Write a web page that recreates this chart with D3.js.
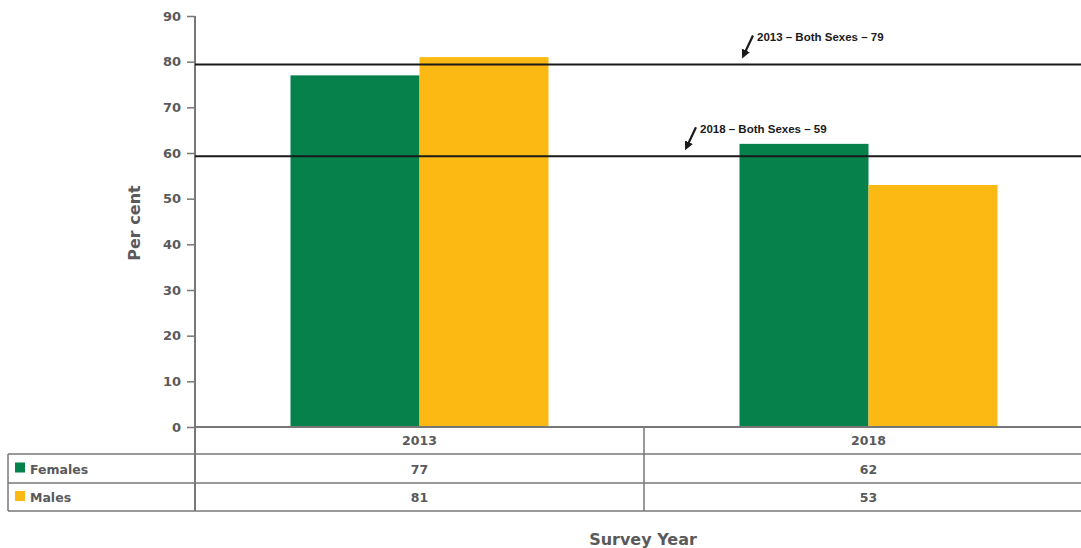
<!DOCTYPE html>
<html><head><meta charset="utf-8">
<script src="https://cdn.jsdelivr.net/npm/d3@7"></script>
<style>body{margin:0;background:#fff}svg{display:block}</style>
</head><body>
<script>
const years = ["2013", "2018"];
const seriesNames = ["Females", "Males"];
const females = [77, 62];
const males = [81, 53];
const yTicks = [0, 10, 20, 30, 40, 50, 60, 70, 80, 90];
const refYears = ["2013", "2018"];
const refValues = [79.4, 59.3];
const refLabels = ["2013 – Both Sexes – 79", "2018 – Both Sexes – 59"];
const colors = ["#06814b", "#fdb913"];

const W = 1081, H = 548;
const svg = d3.select("body").append("svg").attr("width", W).attr("height", H);
const font = "'DejaVu Sans', sans-serif";
const gray = "#5a5a5c", lineGray = "#777";

const x = d3.scaleBand().domain(years).range([195, 1093]);
const x1 = d3.scaleBand().domain(seriesNames).range([0, 258]);
const y = d3.scaleLinear().domain([0, 90]).range([427, 16]);

const series = [females, males];

// bars
years.forEach((yr, i) => {
  seriesNames.forEach((s, j) => {
    const v = series[j][i];
    svg.append("rect")
      .attr("x", x(yr) + (x.bandwidth() - 258) / 2 + x1(s))
      .attr("y", y(v))
      .attr("width", x1.bandwidth())
      .attr("height", y(0) - y(v))
      .attr("fill", colors[j]);
  });
});

// y axis
const yAxis = d3.axisLeft(y).tickValues(yTicks).tickSize(8).tickPadding(6);
const ga = svg.append("g").attr("transform", "translate(195,0)").call(yAxis);
ga.select(".domain").attr("stroke", lineGray).attr("stroke-width", 2).attr("d", "M0,16V511");
ga.selectAll(".tick line").attr("stroke", lineGray).attr("stroke-width", 1.5);
ga.selectAll(".tick text").attr("fill", gray).attr("font-family", font)
  .attr("font-weight", "bold").attr("font-size", 13);

// reference lines
refValues.forEach((v, i) => {
  svg.append("line").attr("x1", 195).attr("x2", W).attr("y1", y(v)).attr("y2", y(v))
    .attr("stroke", "#1a1a1a").attr("stroke-width", 2);
});
// annotations
svg.append("defs").append("marker").attr("id", "ah").attr("viewBox", "0 0 10 10")
  .attr("refX", 5).attr("refY", 5).attr("markerWidth", 4).attr("markerHeight", 4)
  .attr("orient", "auto-start-reverse")
  .append("path").attr("d", "M0,0L10,5L0,10z").attr("fill", "#1a1a1a");
const annX = [757, 700];
refValues.forEach((v, i) => {
  const ty = y(v) - 23;
  const ax = annX[i];
  svg.append("line").attr("x1", ax - 4).attr("y1", ty - 6).attr("x2", ax - 13).attr("y2", ty + 13)
    .attr("stroke", "#1a1a1a").attr("stroke-width", 2.2).attr("marker-end", "url(#ah)");
  svg.append("text").attr("x", ax).attr("y", ty).text(refLabels[i])
    .attr("font-family", "'Liberation Sans Narrow', 'Liberation Sans', sans-serif")
    .attr("font-weight", "bold").attr("font-size", 11.5).attr("fill", "#1a1a1a");
});

// table
const rowY = [427, 454, 483, 511];
const tbl = svg.append("g").attr("stroke", lineGray).attr("stroke-width", 1.5);
tbl.append("line").attr("x1", 195).attr("x2", W).attr("y1", 427).attr("y2", 427).attr("stroke-width", 2);
[454, 483, 511].forEach(yy => tbl.append("line").attr("x1", 8).attr("x2", W).attr("y1", yy).attr("y2", yy));
tbl.append("line").attr("x1", 8).attr("x2", 8).attr("y1", 454).attr("y2", 511);
tbl.append("line").attr("x1", x("2018")).attr("x2", x("2018")).attr("y1", 427).attr("y2", 511);

const tcell = (tx, ty, t, anchor) => svg.append("text").attr("x", tx).attr("y", ty).text(t)
  .attr("text-anchor", anchor).attr("font-family", font).attr("font-weight", "bold")
  .attr("font-size", 12.5).attr("fill", gray);
years.forEach(yr => tcell(x(yr) + x.bandwidth() / 2, 445, yr, "middle"));
seriesNames.forEach((s, j) => {
  const cy = (rowY[j + 1] + rowY[j + 2]) / 2;
  svg.append("rect").attr("x", 15).attr("y", cy - 6).attr("width", 10).attr("height", 10).attr("fill", colors[j]);
  tcell(30, cy + 5, s, "start");
  years.forEach((yr, i) => tcell(x(yr) + x.bandwidth() / 2, cy + 5, series[j][i], "middle"));
});

// axis titles
svg.append("text").attr("x", 643).attr("y", 545).text("Survey Year").attr("text-anchor", "middle")
  .attr("font-family", font).attr("font-weight", "bold").attr("font-size", 16).attr("fill", gray);
svg.append("text").attr("transform", "translate(140,223) rotate(-90)").text("Per cent").attr("text-anchor", "middle")
  .attr("font-family", font).attr("font-weight", "bold").attr("font-size", 16).attr("fill", gray);
</script>
</body></html>
